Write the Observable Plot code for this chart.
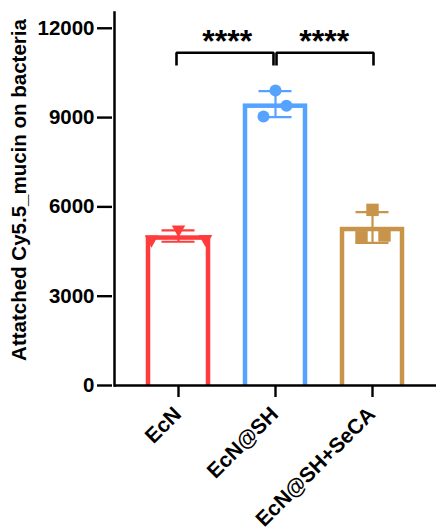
<!DOCTYPE html>
<html>
<head>
<meta charset="utf-8">
<script src="https://cdn.jsdelivr.net/npm/d3@7"></script>
<script src="https://cdn.jsdelivr.net/npm/@observablehq/plot@0.6"></script>
<style>
  html, body { margin: 0; padding: 0; background: #fff; }
  #chart svg { display: block; }
</style>
</head>
<body>
<div id="chart"></div>
<script>
// Groups and replicate measurements (three per group)
const groups = ["EcN", "EcN@SH", "EcN@SH+SeCA"];
const ecnValues = [4900, 5240, 4920];
const ecnShValues = [9910, 9400, 9040];
const ecnShSecaValues = [5900, 4980, 5040];
const yTicks = [0, 3000, 6000, 9000, 12000];
const yLabel = "Attatched Cy5.5_mucin on bacteria";
const significance = ["****", "****"];
const yMax = 12530;

// Styling per group
const colors = ["#ff3b3b", "#55a2ff", "#c8944a"];
// Horizontal spread of the replicate dots inside each bar (px)
const spread = [[-27, 0, 27], [0, 11, -12], [0, -11, 12]];
// Annotation heights (data units)
const bracketTop = 11180, bracketFoot = 10750, starsAt = 11560;

const replicates = [ecnValues, ecnShValues, ecnShSecaValues];
const stats = groups.map((g, i) => {
  const m = d3.mean(replicates[i]);
  const sd = d3.deviation(replicates[i]);
  return {group: g, mean: m, lo: m - sd, hi: m + sd, color: colors[i]};
});

// Down-pointing triangle marker
const triangleDown = {
  draw(context, size) {
    const w = Math.sqrt((4 * size) / Math.sqrt(3));
    const h = w * 0.9;
    context.moveTo(-w / 2, -h / 3);
    context.lineTo(w / 2, -h / 3);
    context.lineTo(0, (2 * h) / 3);
    context.closePath();
  }
};
const symbols = [triangleDown, "circle", "square"];
const radii = [5, 6, 7];

const width = 436, height = 528;
const marginLeft = 114, marginRight = 0, marginTop = 12, marginBottom = 143;
const paddingInner = 0.385, paddingOuter = 0.344;
const step = (width - marginLeft - marginRight) / (groups.length - paddingInner + 2 * paddingOuter);

const font = "'Liberation Sans', Arial, Helvetica, sans-serif";

const dotMarks = [];
groups.forEach((g, i) => {
  replicates[i].forEach((v, j) => {
    dotMarks.push(Plot.dot([v], {
      x: () => g, y: d => d,
      symbol: symbols[i], r: radii[i],
      fill: colors[i], stroke: "none", dx: spread[i][j]
    }));
  });
});

function bracket(a, b, dx) {
  const pts = [
    {g: a, v: bracketFoot}, {g: a, v: bracketTop},
    {g: b, v: bracketTop}, {g: b, v: bracketFoot}
  ];
  return Plot.line(pts, {
    x: "g", y: "v", dx, stroke: "black", strokeWidth: 2.6,
    strokeLinejoin: "miter", strokeLinecap: "butt", curve: "linear"
  });
}

const chart = Plot.plot({
  width, height, marginLeft, marginRight, marginTop, marginBottom,
  style: {fontFamily: font, background: "#fff", color: "#000"},
  x: {type: "band", domain: groups, paddingInner, paddingOuter, axis: null},
  y: {domain: [0, yMax], axis: null},
  marks: [
    // bars: outlined, white fill; bottom edge clipped under the axis
    Plot.barY(stats, {
      x: "group", y: "mean", fill: "white", stroke: "color",
      strokeWidth: 4.5, insetTop: 2, insetBottom: -8, clip: "frame"
    }),
    // mean ± SD error bars
    Plot.ruleX(stats, {x: "group", y1: "lo", y2: "hi", stroke: "color", strokeWidth: 2.2}),
    Plot.tickY(stats, {x: "group", y: "hi", stroke: "color", strokeWidth: 2.2, insetLeft: 13.5, insetRight: 13.5}),
    Plot.tickY(stats, {x: "group", y: "lo", stroke: "color", strokeWidth: 2.2, insetLeft: 13.5, insetRight: 13.5}),
    ...dotMarks,
    // axes
    Plot.axisY({
      ticks: yTicks, tickFormat: d => String(d), tickSize: 15, tickPadding: 3,
      fontSize: 20.5, fontWeight: "bold", strokeWidth: 2.4, label: null,
      dx: -2
    }),
    Plot.axisX({
      tickSize: 12, tickFormat: () => "", strokeWidth: 2.4, label: null
    }),
    Plot.ruleY([0], {strokeWidth: 2.5, stroke: "black"}),
    Plot.frame({anchor: "left", strokeWidth: 2.5, stroke: "black"}),
    // rotated group labels
    Plot.text(groups, {
      x: d => d, frameAnchor: "bottom", rotate: -45, textAnchor: "end",
      dx: 4, dy: 30, fontSize: 21, fontWeight: "bold", fill: "black"
    }),
    // y-axis title
    Plot.text([yLabel], {
      frameAnchor: "left", textAnchor: "middle", rotate: -90, dx: -95, dy: -9,
      fontSize: 20.5, fontWeight: "bold", fill: "black"
    }),
    // significance brackets
    bracket(groups[0], groups[1], -2),
    bracket(groups[1], groups[2], 1),
    Plot.text([significance[0]], {x: () => groups[0], y: starsAt, dx: step / 2, fontSize: 32, fontWeight: "bold", fill: "black", letterSpacing: 4}),
    Plot.text([significance[1]], {x: () => groups[1], y: starsAt, dx: step / 2, fontSize: 32, fontWeight: "bold", fill: "black", letterSpacing: 4})
  ]
});

document.getElementById("chart").appendChild(chart);
</script>
</body>
</html>
